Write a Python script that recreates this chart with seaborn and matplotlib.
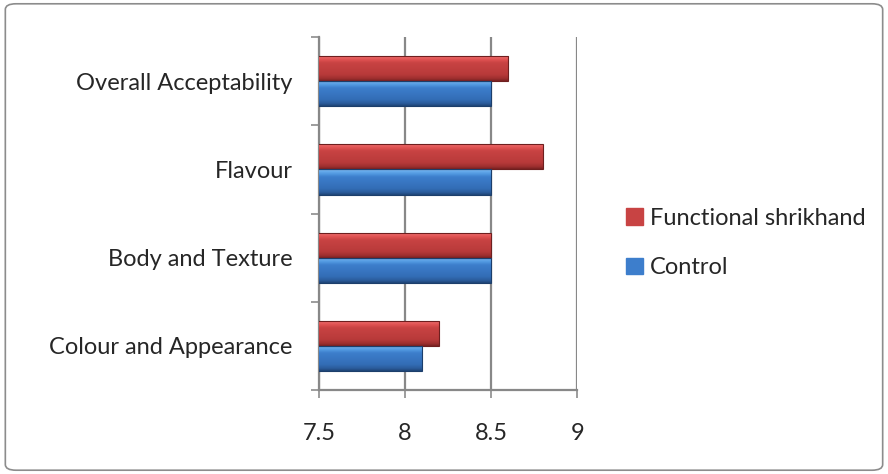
import matplotlib
matplotlib.use("Agg")
import matplotlib.pyplot as plt
import seaborn as sns
import pandas as pd
import numpy as np
from matplotlib.colors import to_rgb
from matplotlib.patches import FancyBboxPatch

categories = ["Overall Acceptability", "Flavour", "Body and Texture", "Colour and Appearance"]
functional = [8.6, 8.8, 8.5, 8.2]
control = [8.5, 8.5, 8.5, 8.1]
series_names = ["Functional shrikhand", "Control"]
x_ticks = [7.5, 8, 8.5, 9]
x_tick_labels = ["7.5", "8", "8.5", "9"]

df = pd.DataFrame({
    "Attribute": categories * 2,
    "Score": functional + control,
    "Series": [series_names[0]] * len(categories) + [series_names[1]] * len(categories),
})

sns.set_theme(style="white")
plt.rcParams["font.family"] = ["Lato", "DejaVu Sans"]

FS = 17
fig = plt.figure(figsize=(8.88, 4.74), dpi=100)
ax = fig.add_axes([0.359, 0.177, 0.291, 0.745])

palette = {series_names[0]: "#C0403F", series_names[1]: "#3A78C8"}
sns.barplot(data=df, x="Score", y="Attribute", hue="Series", order=categories,
            hue_order=series_names, palette=palette, orient="h", width=0.57,
            saturation=1, ax=ax, legend=True, zorder=3)

ax.set_xlim(7.5, 9)
ax.set_ylim(3.5, -0.5)

# vertical bevel-like gradient for each bar
grad_stops = {
    "#C0403F": [(0.0, "#F27474"), (0.18, "#DE5050"), (0.3, "#C84343"), (0.75, "#B83A3A"), (0.9, "#A03030"), (1.0, "#7A2222")],
    "#3A78C8": [(0.0, "#78BBF5"), (0.18, "#5198E0"), (0.3, "#3D7ECC"), (0.75, "#336DB6"), (0.9, "#2B5C9C"), (1.0, "#1F4577")],
}
bar_patches = [p for p in ax.patches if p.get_width() > 0]
for bar in bar_patches:
    fc = bar.get_facecolor()
    key = min(grad_stops, key=lambda k: sum(abs(a - b) for a, b in zip(to_rgb(k), fc[:3])))
    stops = grad_stops[key]
    pos = np.array([s[0] for s in stops])
    cols = np.array([to_rgb(s[1]) for s in stops])
    t = np.linspace(0, 1, 64)
    img = np.stack([np.interp(t, pos, cols[:, i]) for i in range(3)], axis=1)[:, None, :]
    x0 = ax.get_xlim()[0]
    x1 = bar.get_x() + bar.get_width()
    y0 = bar.get_y()
    y1 = y0 + bar.get_height()
    im = ax.imshow(img, extent=(x0, x1, y1, y0), aspect="auto", zorder=3.5, interpolation="bilinear")
    im.set_clip_path(bar)
    edge = tuple(cols[-1] * 0.9)
    bar.set_edgecolor(edge)
    bar.set_linewidth(0.8)
    bar.set_zorder(4)
    bar.set_facecolor("none")

ax.set_xlim(7.5, 9)
ax.set_ylim(3.5, -0.5)
ax.set_xticks(x_ticks)
ax.set_xticklabels(x_tick_labels)
ax.set_xlabel("")
ax.set_ylabel("")
ax.set_yticks([-0.5, 0.5, 1.5, 2.5, 3.5])
ax.set_yticklabels([])
ax.set_yticks(range(len(categories)), minor=True)
ax.set_yticklabels(categories, minor=True)
ax.tick_params(axis="y", which="minor", length=0, pad=19, labelsize=FS)
ax.tick_params(axis="y", which="major", length=6, color="#8C8C8C", width=1.2, direction="out", left=True)
ax.tick_params(axis="x", length=6, color="#8C8C8C", width=1.2, direction="out", bottom=True, pad=18, labelsize=FS)

ax.grid(axis="x", color="#888888", linewidth=1.6, zorder=0)
ax.set_axisbelow(True)
for s in ["top", "right"]:
    ax.spines[s].set_visible(False)
for s in ["left", "bottom"]:
    ax.spines[s].set_color("#888888")
    ax.spines[s].set_linewidth(1.6)

handles, labels = ax.get_legend_handles_labels()
ax.legend_.remove()
leg = fig.legend(handles, labels, loc="center left", bbox_to_anchor=(0.681, 0.487),
                 frameon=False, fontsize=FS, handlelength=0.7, handleheight=0.7,
                 handletextpad=0.3, labelspacing=1.2)
for h, c in zip(leg.legend_handles, ["#C84343", "#3D7ECC"]):
    h.set_facecolor(c)
    h.set_edgecolor(c)

border = FancyBboxPatch((0.006, 0.008), 0.988, 0.984, boxstyle="round,pad=0,rounding_size=0.012",
                        transform=fig.transFigure, fill=False, edgecolor="#8C8C8C", linewidth=1.2)
fig.patches.append(border)

fig.savefig("out.png", dpi=100)
